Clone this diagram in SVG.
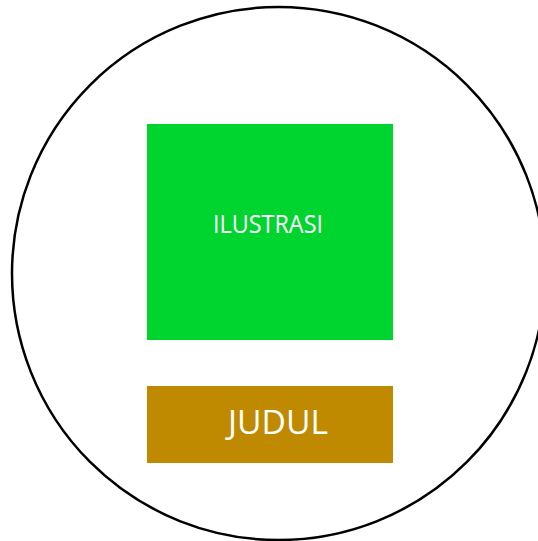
<svg xmlns="http://www.w3.org/2000/svg" width="538" height="541" viewBox="0 0 538 541">
<style>
.lbl{font-family:"Open Sans","Noto Sans","DejaVu Sans",sans-serif;fill:#ffffff;text-anchor:middle}
</style>
<rect width="538" height="541" fill="#ffffff"/>
<g id="frame"><circle cx="278.5" cy="273.5" r="266.5" fill="none" stroke="#000000" stroke-width="2.5"/></g>
<g id="ilustrasi">
<rect x="147" y="124" width="246" height="216" fill="#00D42F"/>
<text class="lbl" x="268" y="232.5" font-size="25" textLength="110" lengthAdjust="spacingAndGlyphs">ILUSTRASI</text>
</g>
<g id="judul">
<rect x="147" y="386" width="246" height="77" fill="#C08A00"/>
<text class="lbl" x="278" y="433.5" font-size="33" textLength="100" lengthAdjust="spacingAndGlyphs">JUDUL</text>
</g>
<g id="connectors"/>
</svg>
